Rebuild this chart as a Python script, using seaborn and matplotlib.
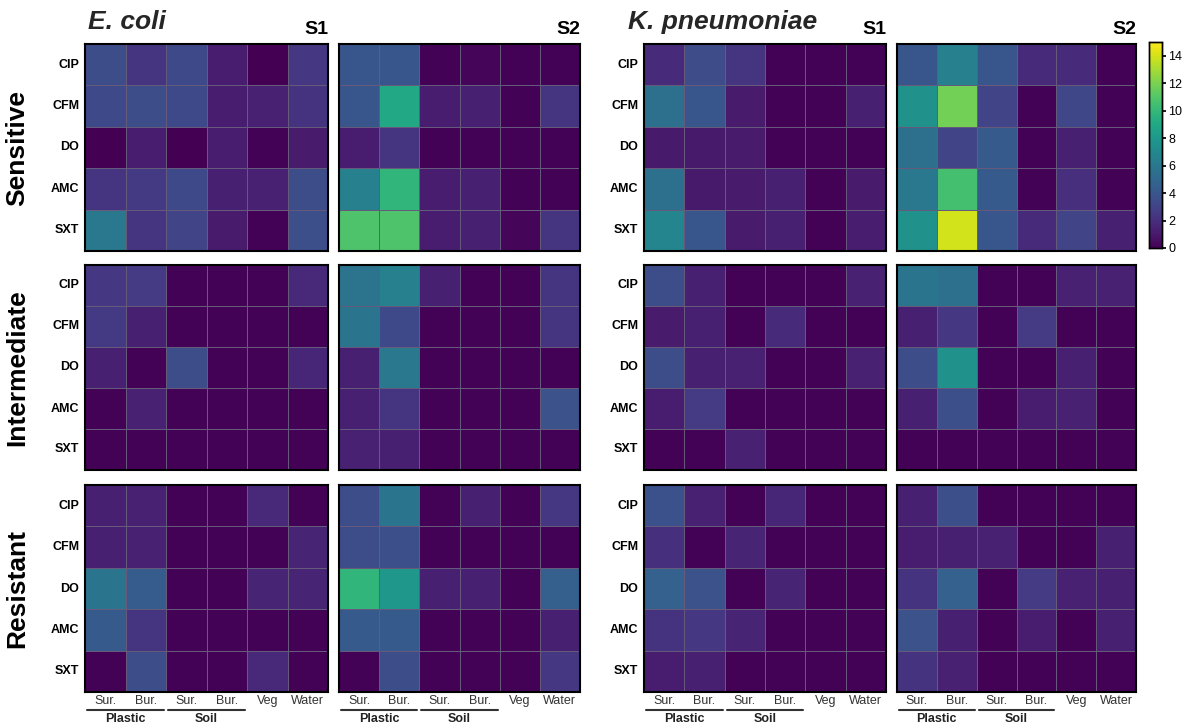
import numpy as np
import pandas as pd
import seaborn as sns
import matplotlib.pyplot as plt
import matplotlib.transforms as mtransforms

# antibiotics (rows) and sampling sites (columns)
antibiotics = ["CIP", "CFM", "DO", "AMC", "SXT"]
sites = ["Sur.", "Bur.", "Sur.", "Bur.", "Veg", "Water"]
groups = ["Plastic", "Soil"]
categories = ["Sensitive", "Intermediate", "Resistant"]

# E. coli - S1
ecoli_s1_sens = [[3.5, 2.3, 3.3, 1.2, 0.0, 2.4],
                 [3.3, 3.5, 3.3, 1.2, 1.4, 2.2],
                 [0.0, 1.2, 0.0, 1.2, 0.1, 1.1],
                 [2.3, 2.5, 3.3, 1.3, 1.4, 3.5],
                 [6.0, 2.3, 3.0, 1.1, 0.1, 3.6]]
ecoli_s1_inter = [[2.4, 2.6, 0.1, 0.1, 0.1, 1.7],
                  [2.5, 1.3, 0.1, 0.1, 0.1, 0.1],
                  [1.3, 0.1, 3.5, 0.1, 0.1, 1.6],
                  [0.1, 1.4, 0.1, 0.1, 0.1, 0.1],
                  [0.1, 0.1, 0.1, 0.1, 0.1, 0.1]]
ecoli_s1_res = [[1.3, 1.4, 0.1, 0.1, 1.7, 0.1],
                [1.3, 1.4, 0.1, 0.1, 0.1, 1.5],
                [5.8, 4.3, 0.1, 0.1, 1.5, 1.5],
                [4.2, 2.3, 0.1, 0.1, 0.1, 0.1],
                [0.1, 3.5, 0.1, 0.1, 1.7, 0.1]]

# E. coli - S2
ecoli_s2_sens = [[4.0, 4.0, 0.1, 0.2, 0.1, 0.1],
                 [4.0, 9.0, 1.2, 1.3, 0.1, 2.3],
                 [1.2, 2.3, 0.1, 0.1, 0.1, 0.1],
                 [6.5, 9.8, 1.2, 1.3, 0.1, 0.1],
                 [10.8, 10.8, 1.2, 1.3, 0.2, 2.3]]
ecoli_s2_inter = [[5.7, 6.5, 1.3, 0.1, 0.1, 2.3],
                  [5.8, 3.3, 0.1, 0.1, 0.1, 2.3],
                  [1.3, 6.0, 0.1, 0.1, 0.1, 0.1],
                  [1.3, 2.3, 0.1, 0.1, 0.1, 3.8],
                  [1.4, 1.3, 0.1, 0.1, 0.1, 0.1]]
ecoli_s2_res = [[3.5, 5.8, 0.1, 1.3, 0.1, 2.4],
                [3.5, 3.6, 0.1, 0.1, 0.1, 0.1],
                [9.8, 8.0, 1.3, 1.3, 0.1, 4.5],
                [4.2, 4.2, 0.1, 0.1, 0.1, 1.3],
                [0.1, 3.5, 0.1, 0.1, 0.1, 2.4]]

# K. pneumoniae - S1
kpn_s1_sens = [[1.8, 3.4, 2.3, 0.1, 0.1, 0.1],
               [5.5, 4.0, 1.1, 0.1, 0.1, 1.3],
               [1.0, 1.0, 1.1, 0.1, 0.1, 0.1],
               [5.5, 1.0, 1.1, 1.3, 0.1, 1.1],
               [6.8, 4.0, 1.1, 1.3, 0.1, 1.2]]
kpn_s1_inter = [[3.5, 1.3, 0.1, 0.1, 0.1, 1.4],
                [1.1, 1.3, 0.1, 1.8, 0.1, 0.1],
                [3.5, 1.3, 1.4, 0.1, 0.1, 1.4],
                [1.2, 2.6, 0.1, 0.1, 0.1, 0.1],
                [0.1, 0.1, 1.4, 0.1, 0.1, 0.1]]
kpn_s1_res = [[3.7, 1.4, 0.1, 1.6, 0.1, 0.1],
              [2.1, 0.1, 1.5, 0.1, 0.1, 0.1],
              [4.6, 3.8, 0.1, 1.5, 0.1, 0.1],
              [2.2, 2.4, 1.5, 0.1, 0.1, 0.1],
              [1.2, 1.3, 0.1, 0.1, 0.1, 0.1]]

# K. pneumoniae - S2
kpn_s2_sens = [[4.0, 6.5, 4.0, 1.8, 1.8, 0.1],
               [7.5, 11.8, 3.0, 0.1, 3.2, 0.1],
               [5.5, 3.0, 4.2, 0.1, 1.3, 0.1],
               [6.0, 10.5, 4.2, 0.1, 2.0, 0.1],
               [7.5, 14.0, 4.0, 1.8, 3.0, 1.3]]
kpn_s2_inter = [[5.8, 5.5, 0.1, 0.1, 1.4, 1.4],
                [1.3, 2.4, 0.1, 2.6, 0.1, 0.1],
                [3.5, 7.5, 0.1, 0.1, 1.3, 0.1],
                [1.3, 3.6, 0.1, 1.2, 1.4, 0.1],
                [0.1, 0.1, 0.1, 0.1, 0.1, 0.1]]
kpn_s2_res = [[1.3, 3.6, 0.1, 0.1, 0.1, 0.1],
              [1.2, 1.3, 1.4, 0.1, 0.1, 1.3],
              [2.2, 4.6, 0.1, 2.6, 1.4, 1.3],
              [3.8, 1.3, 0.1, 1.2, 0.1, 1.3],
              [2.2, 1.4, 0.1, 0.1, 0.1, 0.1]]

panels = [[ecoli_s1_sens, ecoli_s2_sens, kpn_s1_sens, kpn_s2_sens],
          [ecoli_s1_inter, ecoli_s2_inter, kpn_s1_inter, kpn_s2_inter],
          [ecoli_s1_res, ecoli_s2_res, kpn_s1_res, kpn_s2_res]]

sns.set_theme(style="white")
plt.rcParams['font.family'] = ['Liberation Sans', 'DejaVu Sans']

W, H = 1182, 724
fig = plt.figure(figsize=(W / 100, H / 100), dpi=100)

# panel pixel boxes (left, right) and (top, bottom)
col_px = [(85, 328), (339, 580), (644, 886), (897, 1136)]
row_px = [(44, 251), (265, 470), (485, 692)]

def box(x0, x1, y0, y1):
    return [x0 / W, 1 - y1 / H, (x1 - x0) / W, (y1 - y0) / H]

cax = fig.add_axes(box(1149, 1162, 42, 248))

for r, (y0, y1) in enumerate(row_px):
    for c, (x0, x1) in enumerate(col_px):
        ax = fig.add_axes(box(x0, x1, y0, y1))
        df = pd.DataFrame(panels[r][c], index=antibiotics, columns=sites)
        first = (r == 0 and c == 0)
        sns.heatmap(df, ax=ax, cmap="viridis", vmin=0, vmax=15,
                    linewidths=0.5, linecolor="#655a7c",
                    cbar=first, cbar_ax=cax if first else None,
                    xticklabels=(r == 2), yticklabels=(c in (0, 2)))
        for sp in ax.spines.values():
            sp.set_visible(True)
            sp.set_color("black")
            sp.set_linewidth(1.5)
        ax.tick_params(length=0, pad=4)
        if c in (0, 2):
            ax.set_yticklabels(antibiotics, rotation=0, fontsize=9,
                               fontweight="bold", color="black")
        if r == 2:
            ax.set_xticklabels(sites, rotation=0, fontsize=9, color="#333333")
            ax.tick_params(axis="x", pad=2)
            trans = mtransforms.blended_transform_factory(ax.transData, ax.transAxes)
            for g, name in enumerate(groups):
                xa, xb = 2 * g + 0.05, 2 * g + 1.95
                ax.plot([xa, xb], [-0.085, -0.085], color="#333333", lw=1.5,
                        transform=trans, clip_on=False)
                ax.text((xa + xb) / 2, -0.13, name, transform=trans,
                        ha="center", va="center", fontsize=9,
                        fontweight="bold", color="#222222")
        ax.set_xlabel("")
        ax.set_ylabel("")
        if r == 0:
            ax.text(1.0, 1.03, "S1" if c in (0, 2) else "S2",
                    transform=ax.transAxes, ha="right", va="bottom",
                    fontsize=14, fontweight="bold", color="black")
        if c == 0:
            ax.text(-0.28, 0.5, categories[r], transform=ax.transAxes,
                    rotation=90, ha="center", va="center", fontsize=19,
                    fontweight="bold", color="black")

fig.text(88 / W, 1 - 22 / H, "E. coli", fontsize=19, fontweight="bold",
         fontstyle="italic", ha="left", va="center")
fig.text(628 / W, 1 - 22 / H, "K. pneumoniae", fontsize=19, fontweight="bold",
         fontstyle="italic", ha="left", va="center")

cax.tick_params(labelsize=9, length=3, pad=1.5, colors="black")
cax.set_yticks([0, 2, 4, 6, 8, 10, 12, 14])
for sp in cax.spines.values():
    sp.set_visible(True)
    sp.set_color("black")
    sp.set_linewidth(1)

fig.savefig("out.png", dpi=100)
